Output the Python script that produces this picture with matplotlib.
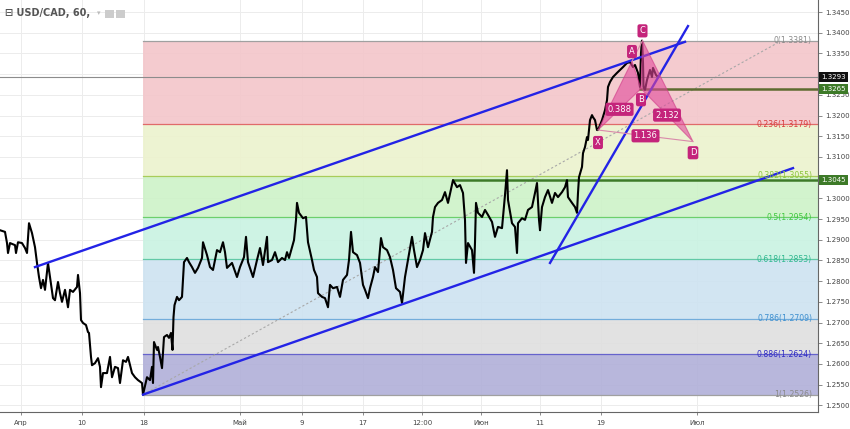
import numpy as np
import matplotlib
matplotlib.use("Agg")
import matplotlib.pyplot as plt
from matplotlib.patches import Polygon, Rectangle

# USD/CAD 60 min - closes (time axis in chart units)
t_pos = [0, 5, 7, 8, 10, 15, 16, 18, 22, 25, 27, 29, 32, 35, 37, 39, 41, 43, 45, 48,
         50, 53, 55, 58, 60, 62, 65, 68, 70, 73, 77, 78, 80, 81, 83, 86, 88, 89, 91, 92,
         95, 98, 100, 101, 103, 107, 110, 112, 115, 118, 120, 123, 126, 128, 132, 135, 138, 142, 143,
         147, 150, 152, 153, 154, 157, 158, 160, 162, 164, 167, 169, 171, 172.5, 173.5, 174.5, 177, 179, 182, 183,
         184, 187, 189, 192, 195, 198, 202, 203, 207, 210, 213, 217, 220, 223, 225, 227, 232, 237, 240, 244,
         246, 248, 253, 257, 260, 263, 267, 268, 272, 275, 278, 282, 285, 287, 289, 292, 294, 296, 297, 299,
         303, 306, 308, 312, 314, 317, 318, 322, 325, 328, 330, 333, 337, 340, 343, 347, 349, 351, 353, 357,
         360, 363, 365, 368, 370, 373, 375, 378, 381, 383, 387, 390, 393, 396, 400, 402, 405, 408, 412, 414,
         417, 420, 423, 425, 428, 432, 433, 435, 438, 442, 445, 448,
         453, 457, 460, 463, 465, 466, 468, 472, 474, 475, 476, 478, 482, 485, 488, 492, 495, 498, 502, 505,
         507, 508, 512, 515, 517, 518, 522, 525, 528, 532, 535, 537, 539, 540, 542, 545, 548, 552, 555, 558,
         562, 565, 567, 568, 572, 575, 577,
         578, 579, 582, 583, 585, 587, 588, 590, 592, 593, 595, 597, 598, 602, 605, 607, 608, 610, 613, 617,
         620, 623, 627, 630, 633, 635, 638, 640, 641, 642, 643, 643.5, 645, 647, 650, 652, 653, 656, 658]

close = [1.2923, 1.2919, 1.2892, 1.2868, 1.2892, 1.2887, 1.2868, 1.2894, 1.2892, 1.2880,
         1.2868, 1.2940, 1.2916, 1.2882, 1.2844, 1.2810, 1.2783, 1.2803, 1.2779, 1.2844,
         1.2810, 1.2759, 1.2754, 1.2798, 1.2771, 1.2750, 1.2779, 1.2737, 1.2779, 1.2774,
         1.2786, 1.2815, 1.2771, 1.2706, 1.2699, 1.2694, 1.2677, 1.2675, 1.2617, 1.2597,
         1.2602, 1.2614, 1.2593, 1.2544, 1.2578, 1.2578, 1.2617, 1.2568, 1.2593, 1.2590,
         1.2554, 1.2609, 1.2605, 1.2617, 1.2578, 1.2568, 1.2561, 1.2554, 1.2526,
         1.2568, 1.2561, 1.2593, 1.2554, 1.2653, 1.2634, 1.2641, 1.2617, 1.2590, 1.2665,
         1.2670, 1.2663, 1.2675, 1.2634, 1.2713, 1.2742, 1.2762, 1.2754, 1.2762, 1.2803,
         1.2846, 1.2856, 1.2846, 1.2834, 1.2820, 1.2832, 1.2856, 1.2894, 1.2863, 1.2834,
         1.2827, 1.2875, 1.2870, 1.2894, 1.2870, 1.2832, 1.2844, 1.2810, 1.2834, 1.2858,
         1.2907, 1.2846, 1.2810, 1.2851, 1.2880, 1.2839, 1.2907, 1.2846, 1.2851, 1.2870,
         1.2846, 1.2856, 1.2851, 1.2870, 1.2856, 1.2882, 1.2899, 1.2948, 1.2989, 1.2965,
         1.2952, 1.2955, 1.2894, 1.2851, 1.2827, 1.2810, 1.2771, 1.2762, 1.2759, 1.2737,
         1.2791, 1.2783, 1.2786, 1.2762, 1.2803, 1.2815, 1.2851, 1.2919, 1.2870, 1.2863,
         1.2844, 1.2791, 1.2779, 1.2759, 1.2783, 1.2810, 1.2834, 1.2822, 1.2904, 1.2882,
         1.2875, 1.2858, 1.2827, 1.2783, 1.2774, 1.2747, 1.2810, 1.2851, 1.2907, 1.2875,
         1.2834, 1.2851, 1.2875, 1.2916, 1.2882, 1.2919, 1.2955, 1.2979, 1.2989, 1.2996,
         1.3015, 1.2989,
         1.3044, 1.3027, 1.3032, 1.3013, 1.2948, 1.2844, 1.2892, 1.2875, 1.2820, 1.2894,
         1.2989, 1.2965, 1.2955, 1.2972, 1.2960, 1.2943, 1.2907, 1.2931, 1.2928, 1.3008,
         1.3068, 1.2996, 1.2940, 1.2931, 1.2868, 1.2940, 1.2952, 1.2948, 1.2972, 1.2979,
         1.3013, 1.3037, 1.2948, 1.2923, 1.2979, 1.3003, 1.3020, 1.2989, 1.3013, 1.3003,
         1.3015, 1.3027, 1.3044, 1.3003, 1.2989, 1.2979, 1.2965,
         1.3013, 1.3051, 1.3076, 1.3109, 1.3124, 1.3148, 1.3141, 1.3189, 1.3201, 1.3196,
         1.3189, 1.3165, 1.3165, 1.3189, 1.3213, 1.3237, 1.3269, 1.3281, 1.3293, 1.3303,
         1.3310, 1.3317, 1.3327, 1.3329, 1.3317, 1.3322, 1.3303, 1.3269, 1.3351, 1.3381,
         1.3327, 1.3269, 1.3262, 1.3286, 1.3310, 1.3293, 1.3315, 1.3298, 1.3293]

# x axis labels
tick_pos = [21, 82, 144, 240, 302, 363, 422, 481, 540, 601, 697]
tick_labels = ["Апр", "10", "18", "Май", "9", "17", "12:00", "Июн", "11", "19", "Июл"]

# fibonacci retracement
fib_anchor_t = 143
fib_levels = ["0", "0.236", "0.382", "0.5", "0.618", "0.786", "0.886", "1"]
fib_prices = [1.3381, 1.3179, 1.3055, 1.2954, 1.2853, 1.2709, 1.2624, 1.2526]
fib_line_colors = ["#a0a0a0", "#e06a6a", "#a8cc5a", "#6ccf6c", "#62c9a6", "#73addb", "#6663cc", "#a0a0a0"]
fib_text_colors = ["#8a8a8a", "#d83a3a", "#8cc63f", "#3fc83f", "#2fb88f", "#3d8fcf", "#2e2bc4", "#8a8a8a"]
fib_band_colors = ["#f3c6ca", "#ecf2cd", "#cdf2c8", "#c9f2e1", "#cde3f1", "#dfdfdf", "#b1afd9"]
fib_trend_t = [143, 778]
fib_trend_p = [1.2526, 1.3376]

# trend lines (start t, start price, end t, end price)
channel_upper = [35, 1.2834, 685, 1.3378]
channel_lower = [143, 1.2526, 793, 1.3073]
steep_line = [550, 1.2844, 688, 1.3416]

# horizontal levels
last_price = 1.3293
level_b = 1.3265
level_b_start = 640
level_res = 1.3045
level_res_start = 453

# harmonic pattern XABCD
pat_names = ["X", "A", "B", "C", "D"]
pat_t = [598, 632, 641, 642.5, 693]
pat_p = [1.3165, 1.3331, 1.3265, 1.3381, 1.3137]
pat_ratios = ["0.388", "2.132", "1.136"]

y_ticks = np.round(np.arange(1.2500, 1.34501, 0.005), 4)
hidden_ticks = [1.3300, 1.3050]  # covered by the price tags

fig = plt.figure(figsize=(8.5, 4.29), dpi=100)
ax = fig.add_axes([0, 17 / 429, 818 / 850, 412 / 429])
ax.set_xlim(0, 818)
ax.set_ylim(1.2484, 1.3479)

# grid
for x in tick_pos:
    ax.axvline(x, color="#ececec", lw=0.7, zorder=0)
for y in y_ticks:
    ax.axhline(y, color="#ececec", lw=0.7, zorder=0)

# fib bands and levels
for i in range(len(fib_band_colors)):
    ax.fill_between([fib_anchor_t, 818], fib_prices[i + 1], fib_prices[i],
                    color=fib_band_colors[i], alpha=0.9, lw=0, zorder=1)
for lvl, p, lc, tc in zip(fib_levels, fib_prices, fib_line_colors, fib_text_colors):
    ax.plot([fib_anchor_t, 818], [p, p], color=lc, lw=0.9, zorder=2)
    ax.text(812, p, f"{lvl}({p:.4f})", ha="right", va="center", fontsize=5.6,
            color=tc, zorder=9)
ax.plot(fib_trend_t, fib_trend_p, color="#a8a8a8", lw=0.8, ls=(0, (2, 2)), zorder=3)

# horizontal lines
ax.axhline(last_price, color="#8c8c8c", lw=0.8, zorder=3)
ax.plot([level_res_start, 818], [level_res, level_res], color="#3d7a28", lw=1.8, zorder=4)
ax.plot([level_b_start, 818], [level_b, level_b], color="#5e6b30", lw=1.8, zorder=4)

# price
ax.plot(t_pos, close, color="black", lw=1.5, zorder=5)

# blue trend lines
for ln in (channel_upper, channel_lower, steep_line):
    ax.plot([ln[0], ln[2]], [ln[1], ln[3]], color="#2323e6", lw=1.7, zorder=6)

# harmonic pattern
pat_fill = "#e0489a"
tri1 = Polygon(list(zip(pat_t[0:3], pat_p[0:3])), closed=True, fc=pat_fill, ec="#d03a88",
               alpha=0.6, lw=0.8, zorder=7)
tri2 = Polygon(list(zip(pat_t[2:5], pat_p[2:5])), closed=True, fc=pat_fill, ec="#d03a88",
               alpha=0.6, lw=0.8, zorder=7)
ax.add_patch(tri1)
ax.add_patch(tri2)
ax.plot([pat_t[0], pat_t[4]], [pat_p[0], pat_p[4]], color="#d98aaa", lw=0.8, zorder=7)
ax.plot([pat_t[1], pat_t[3]], [pat_p[1], pat_p[3]], color="#d98aaa", lw=0.8, zorder=7)

box = dict(boxstyle="round,pad=0.25", fc="#c4247b", ec="none")
offsets = [-9, 7, -8, 7, -8]
for name, tx, py, off in zip(pat_names, pat_t, pat_p, offsets):
    ax.annotate(name, (tx, py), xytext=(0, off), textcoords="offset points", ha="center",
                va="center", fontsize=6, color="white", bbox=box, zorder=10)
pairs = [(0, 2), (2, 4), (0, 4)]
for r, (a, b) in zip(pat_ratios, pairs):
    mx = (pat_t[a] + pat_t[b]) / 2
    my = (pat_p[a] + pat_p[b]) / 2
    ax.text(mx, my, r, ha="center", va="center", fontsize=6, color="white", bbox=box, zorder=10)

# axes styling
for s in ("top", "left"):
    ax.spines[s].set_visible(False)
ax.spines["right"].set_color("#666666")
ax.spines["bottom"].set_color("#666666")
ax.spines["right"].set_linewidth(0.8)
ax.spines["bottom"].set_linewidth(0.8)
ax.yaxis.tick_right()
ax.set_yticks(y_ticks)
ax.set_yticklabels(["" if v in hidden_ticks else f"{v:.4f}" for v in y_ticks])
ax.tick_params(axis="y", labelsize=5, length=3, width=0.6, color="#777777", labelcolor="#444444", pad=2)
ax.set_xticks(tick_pos)
ax.set_xticklabels(tick_labels)
ax.tick_params(axis="x", labelsize=5, length=2, width=0.6, color="#777777", labelcolor="#444444", pad=4)

# price tags on the scale
tags = [(last_price, "#111111"), (level_b, "#3d7a28"), (level_res, "#3d7a28")]
for p, c in tags:
    ax.text(1.004, p, f"{p:.4f}", transform=ax.get_yaxis_transform(), ha="left", va="center",
            fontsize=5, color="white", zorder=11, clip_on=False,
            bbox=dict(boxstyle="square,pad=0.3", fc=c, ec="none"))

# header
ax.text(0.006, 0.968, "⊟ USD/CAD, 60,", transform=ax.transAxes, fontsize=7, weight="bold",
        color="#555555", va="center", zorder=12)
ax.text(97 / 818, 0.968, "▾", transform=ax.transAxes, fontsize=5, color="#bbbbbb",
        va="center", zorder=12)
for x0 in (105, 116):
    fig.add_artist(Rectangle((x0 / 850, 1 - 18 / 429), 9 / 850, 8 / 429, fc="#cccccc", ec="none"))

fig.savefig("out.png", dpi=100)
